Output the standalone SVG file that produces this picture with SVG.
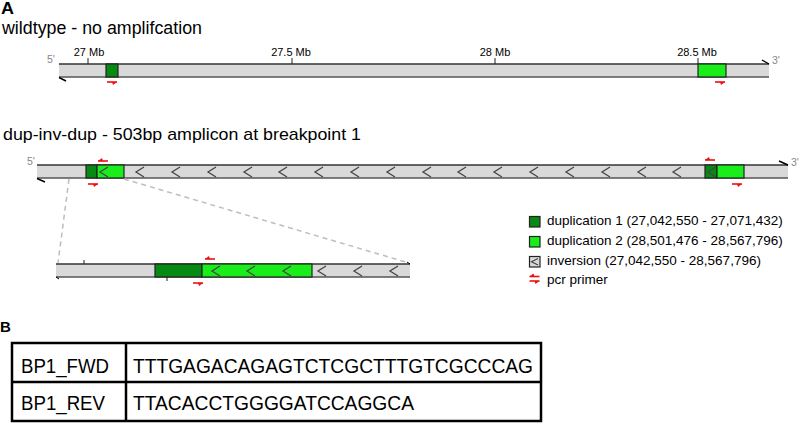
<svg xmlns="http://www.w3.org/2000/svg" width="799" height="433" viewBox="0 0 799 433">
<style>
text{font-family:"Liberation Sans",Arial,sans-serif;fill:#000}
.bar{fill:#d9d9d9}
.edge{stroke:#333;stroke-width:1.5;fill:none}
.d1{fill:#078a14;stroke:#222;stroke-width:1.2}
.d2{fill:#1aee1a;stroke:#222;stroke-width:1.2}
.chev{fill:none;stroke:#444;stroke-width:1.3}
.tick{stroke:#222;stroke-width:1}
.end{stroke:#000;stroke-width:1.4;fill:none}
.prime{stroke:#f01010;stroke-width:1.6;fill:none}
.barb{fill:#f01010}
.pl{font-size:10.5px;fill:#888}
.tl{font-size:11px;text-anchor:middle}
.leg{font-size:13.5px}
.cell{font-size:19.5px}
.dash{stroke:#bdbdbd;stroke-width:1.5;stroke-dasharray:5 4;fill:none}
.tb{fill:none;stroke:#000;stroke-width:2.5}
</style>
<defs>
<path id="ch" class="chev" d="M8,-5 L0,0 L8,5"/>
<g id="pf"><path class="prime" d="M0,0 H10"/><path class="barb" d="M10,0 L5,0 L6,3 Z"/></g>
<g id="pr"><path class="prime" d="M0,0 H10"/><path class="barb" d="M0,0 L5,0 L4,-3 Z"/></g>
</defs>

<text x="1" y="14" style="font-size:16px;font-weight:bold" textLength="13" lengthAdjust="spacingAndGlyphs">A</text>
<text x="2" y="34" style="font-size:17.5px" textLength="200" lengthAdjust="spacingAndGlyphs">wildtype - no amplifcation</text>

<g id="wildtype">
<rect class="bar" x="59" y="64" width="710" height="13"/>
<line class="edge" x1="59" y1="64" x2="769" y2="64"/>
<line class="edge" x1="59" y1="77" x2="769" y2="77" style="stroke:#555"/>
<line class="tick" x1="88" y1="58" x2="88" y2="64"/>
<line class="tick" x1="292" y1="58" x2="292" y2="64"/>
<line class="tick" x1="495" y1="58" x2="495" y2="64"/>
<line class="tick" x1="698" y1="58" x2="698" y2="64"/>
<text class="tl" x="89" y="56">27 Mb</text>
<text class="tl" x="291" y="56">27.5 Mb</text>
<text class="tl" x="495" y="56">28 Mb</text>
<text class="tl" x="697" y="56">28.5 Mb</text>
<rect class="d1" x="106" y="64" width="12" height="13"/>
<rect class="d2" x="698" y="64" width="28" height="13"/>
<path class="end" d="M59,77.5 L66,81"/>
<path class="end" d="M762,60 L769,64"/>
<text class="pl" x="47" y="63">5'</text>
<text class="pl" x="772" y="64">3'</text>
<use href="#pf" x="107" y="82"/>
<use href="#pf" x="715" y="82"/>
</g>

<text x="3" y="140" style="font-size:17px" textLength="358" lengthAdjust="spacingAndGlyphs">dup-inv-dup - 503bp amplicon at breakpoint 1</text>

<g id="dupinvdup">
<rect class="bar" x="37" y="165" width="751" height="13"/>
<line class="edge" x1="37" y1="165" x2="788" y2="165"/>
<line class="edge" x1="37" y1="178" x2="788" y2="178" style="stroke:#555"/>
<rect class="d1" x="86" y="165" width="11" height="13"/>
<rect class="d2" x="97" y="165" width="27" height="13"/>
<use href="#ch" x="100" y="172"/>
<use href="#ch" x="136" y="172"/><use href="#ch" x="172" y="172"/><use href="#ch" x="208" y="172"/><use href="#ch" x="244" y="172"/>
<use href="#ch" x="279" y="172"/><use href="#ch" x="315" y="172"/><use href="#ch" x="351" y="172"/><use href="#ch" x="387" y="172"/>
<use href="#ch" x="423" y="172"/><use href="#ch" x="458" y="172"/><use href="#ch" x="494" y="172"/><use href="#ch" x="530" y="172"/>
<use href="#ch" x="566" y="172"/><use href="#ch" x="602" y="172"/><use href="#ch" x="638" y="172"/><use href="#ch" x="673" y="172"/>
<rect class="d1" x="705" y="165" width="12" height="13"/>
<use href="#ch" x="708" y="172"/>
<rect class="d2" x="717" y="165" width="27" height="13"/>
<path class="end" d="M37,178.5 L45,182"/>
<path class="end" d="M779,161 L788,165"/>
<text class="pl" x="27" y="165">5'</text>
<text class="pl" x="791" y="166">3'</text>
<use href="#pr" x="98" y="161"/>
<use href="#pf" x="88" y="184"/>
<use href="#pr" x="705" y="160"/>
<use href="#pf" x="732" y="184"/>
</g>

<g id="connectors">
<path class="dash" d="M69,179 L58,263"/>
<path class="dash" d="M124,179 L409,263"/>
</g>

<g id="zoom">
<rect class="bar" x="56" y="264" width="354" height="13"/>
<line class="edge" x1="56" y1="264" x2="410" y2="264"/>
<line class="edge" x1="56" y1="277" x2="410" y2="277" style="stroke:#555"/>
<rect class="d1" x="155" y="264" width="47" height="13"/>
<rect class="d2" x="202" y="264" width="110" height="13"/>
<use href="#ch" x="212" y="271"/><use href="#ch" x="247" y="271"/><use href="#ch" x="283" y="271"/>
<use href="#ch" x="318" y="271"/><use href="#ch" x="354" y="271"/><use href="#ch" x="390" y="271"/>
<line class="tick" x1="84" y1="260" x2="84" y2="264"/>
<line class="tick" x1="167" y1="277" x2="167" y2="281"/>
<path class="end" d="M56,277 L59,279" style="stroke-width:1"/>
<path class="end" d="M407,262 L410,264" style="stroke-width:1"/>
<use href="#pr" x="205" y="259"/>
<use href="#pf" x="193" y="283"/>
</g>

<g id="legend">
<rect class="d1" x="529.5" y="216.5" width="10.5" height="10.5"/>
<text class="leg" x="547" y="225">duplication 1 (27,042,550 - 27,071,432)</text>
<rect class="d2" x="529.5" y="236.5" width="10.5" height="10.5"/>
<text class="leg" x="547" y="245">duplication 2 (28,501,476 - 28,567,796)</text>
<rect x="529.5" y="256.5" width="10.5" height="10.5" style="fill:#d9d9d9;stroke:#222;stroke-width:1.2"/>
<path class="chev" d="M538,258.5 L531.5,261.75 L538,265" style="stroke-width:1.2"/>
<text class="leg" x="547" y="265">inversion (27,042,550 - 28,567,796)</text>
<use href="#pr" x="529.5" y="276.5"/>
<use href="#pf" x="529.5" y="281"/>
<text class="leg" x="547" y="284">pcr primer</text>
</g>

<text x="0" y="332" style="font-size:15px;font-weight:bold">B</text>
<g id="table">
<rect class="tb" x="12" y="343" width="529" height="78"/>
<line class="tb" x1="12" y1="382" x2="541" y2="382"/>
<line class="tb" x1="126" y1="343" x2="126" y2="421"/>
<text class="cell" x="21" y="373" textLength="88" lengthAdjust="spacingAndGlyphs">BP1_FWD</text>
<text class="cell" x="133" y="373" textLength="400" lengthAdjust="spacingAndGlyphs">TTTGAGACAGAGTCTCGCTTTGTCGCCCAG</text>
<text class="cell" x="21" y="410" textLength="84" lengthAdjust="spacingAndGlyphs">BP1_REV</text>
<text class="cell" x="133" y="410" textLength="281" lengthAdjust="spacingAndGlyphs">TTACACCTGGGGATCCAGGCA</text>
</g>
</svg>
